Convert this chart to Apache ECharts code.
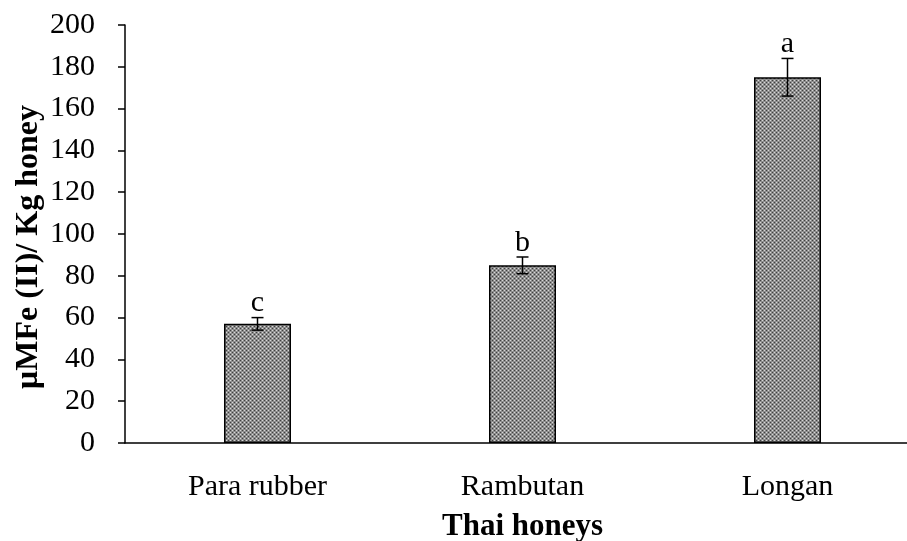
<!DOCTYPE html>
<html>
<head>
<meta charset="utf-8">
<script src="https://cdn.jsdelivr.net/npm/echarts@6/dist/echarts.min.js"></script>
<style>
  html, body { margin: 0; padding: 0; background: #fff; }
  #chart { width: 907px; height: 541px; }
</style>
</head>
<body>
<div id="chart"></div>
<script>
// Antioxidant power (FRAP) of three Thai honeys
const categories = ['Para rubber', 'Rambutan', 'Longan'];
const means = [57, 85, 175];
const errors = [3, 4, 9];
const letters = ['c', 'b', 'a'];
const yTicks = [0, 20, 40, 60, 80, 100, 120, 140, 160, 180, 200];
const yTitle = 'μMFe (II)/ Kg honey';
const xTitle = 'Thai honeys';

// Small dithered grey tile used as bar fill
function makePattern() {
  const c = document.createElement('canvas');
  c.width = 4; c.height = 4;
  const ctx = c.getContext('2d');
  ctx.fillStyle = '#8e8e8e';
  ctx.fillRect(0, 0, 4, 4);
  ctx.fillStyle = '#404040';
  ctx.fillRect(0, 0, 1, 1);
  ctx.fillRect(2, 2, 1, 1);
  ctx.fillStyle = '#d8d8d8';
  ctx.fillRect(2, 0, 1, 1);
  ctx.fillRect(0, 2, 1, 1);
  return c;
}

const font = '"Liberation Serif", "Times New Roman", serif';
const chart = echarts.init(document.getElementById('chart'));

chart.setOption({
  animation: false,
  textStyle: { fontFamily: font },
  grid: { left: 125, top: 25, width: 795, height: 418, containLabel: false, outerBoundsMode: 'none' },
  graphic: [
    {
      type: 'text',
      x: 29, y: 247,
      rotation: Math.PI / 2,
      style: {
        text: yTitle,
        font: 'bold 32px ' + font,
        fill: '#000',
        align: 'center',
        verticalAlign: 'middle'
      }
    }
  ],
  xAxis: {
    type: 'category',
    data: categories,
    name: xTitle,
    nameLocation: 'middle',
    nameGap: 68,
    nameTextStyle: { fontFamily: font, fontSize: 31, fontWeight: 'bold', color: '#000' },
    axisLine: { lineStyle: { color: '#000', width: 1.5 } },
    axisTick: { show: false },
    axisLabel: { fontFamily: font, fontSize: 30, color: '#000', margin: 29 }
  },
  yAxis: {
    type: 'value',
    min: 0, max: 200, interval: 20,
    axisLine: { show: true, lineStyle: { color: '#000', width: 1.5 } },
    axisTick: { show: true, length: 7, lineStyle: { color: '#000', width: 1.5 } },
    splitLine: { show: false },
    axisLabel: {
      fontFamily: font, fontSize: 30, color: '#000', margin: 30,
      formatter: v => (yTicks.indexOf(v) >= 0 ? String(v) : '')
    }
  },
  series: [
    {
      type: 'bar',
      data: means,
      barWidth: 67,
      itemStyle: {
        color: { image: makePattern(), repeat: 'repeat' },
        borderColor: '#000',
        borderWidth: 1.5
      }
    },
    {
      type: 'custom',
      data: categories.map((c, i) => [i, means[i], errors[i]]),
      renderItem: function (params, api) {
        const x = api.value(0);
        const m = api.value(1);
        const e = api.value(2);
        const top = api.coord([x, m + e]);
        const bot = api.coord([x, m - e]);
        const hw = 6;
        const ls = { stroke: '#000', lineWidth: 1.5 };
        return {
          type: 'group',
          children: [
            { type: 'line', shape: { x1: top[0], y1: top[1], x2: bot[0], y2: bot[1] }, style: ls },
            { type: 'line', shape: { x1: top[0] - hw, y1: top[1], x2: top[0] + hw, y2: top[1] }, style: ls },
            { type: 'line', shape: { x1: bot[0] - hw, y1: bot[1], x2: bot[0] + hw, y2: bot[1] }, style: ls },
            {
              type: 'text',
              style: {
                x: top[0], y: top[1] + 1,
                text: letters[params.dataIndex],
                font: '30px ' + font,
                fill: '#000',
                align: 'center',
                verticalAlign: 'bottom'
              }
            }
          ]
        };
      },
      z: 10
    }
  ]
});
</script>
</body>
</html>
